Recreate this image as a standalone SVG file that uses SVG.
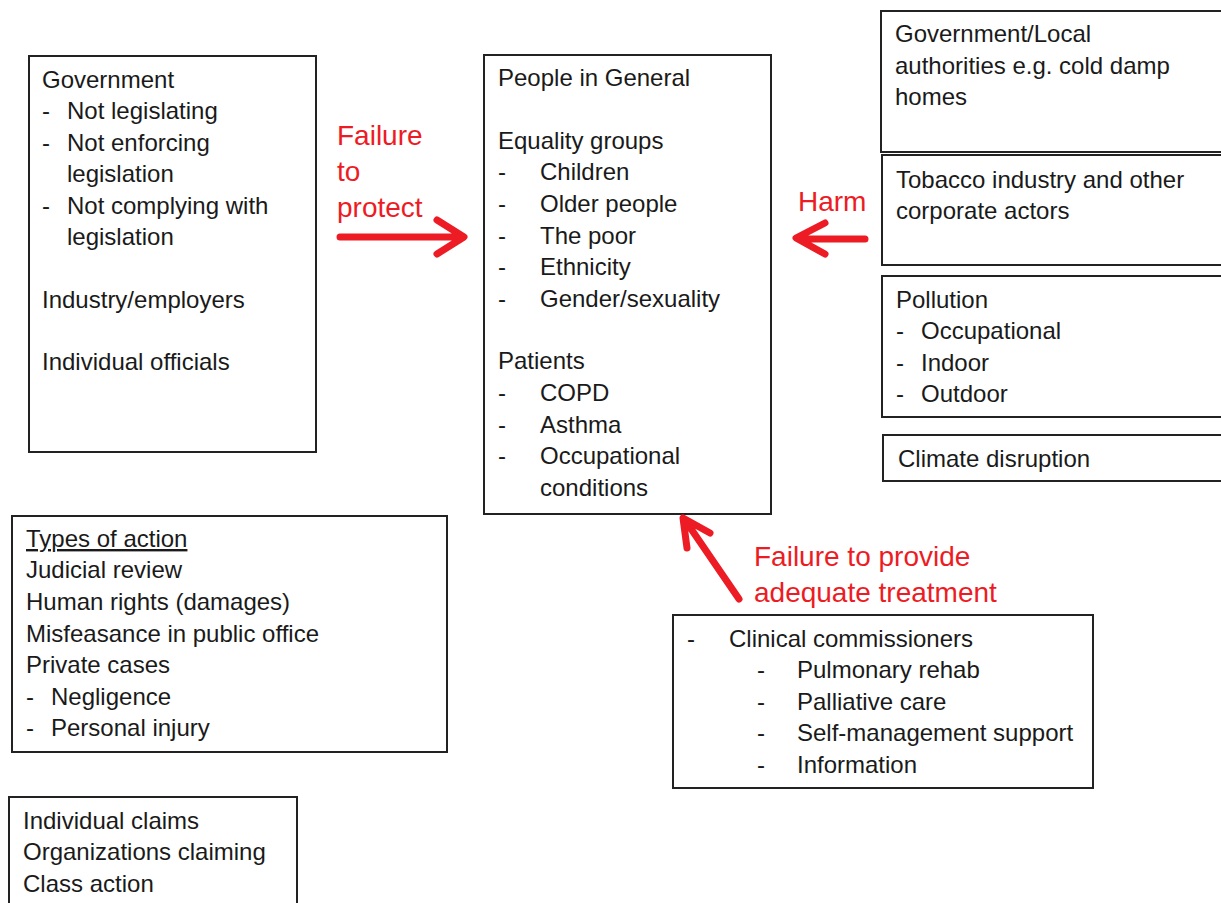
<svg xmlns="http://www.w3.org/2000/svg" width="1221" height="903" viewBox="0 0 1221 903">
<style>
.box{fill:#fff;stroke:#222;stroke-width:2}
text{font-family:"Liberation Sans",Arial,sans-serif;font-size:24px;fill:#1a1a1a}
.red{fill:#ed1c24;font-size:28px}
.arr{fill:none;stroke:#ed1c24;stroke-width:7;stroke-linecap:round;stroke-linejoin:round}
</style>
<rect width="1221" height="903" fill="#fff"/>
<g id="government">
<rect class="box" x="29" y="56" width="287" height="396"/>
<text x="42" y="88">Government</text>
<text x="42" y="119">-</text><text x="67" y="119">Not legislating</text>
<text x="42" y="151">-</text><text x="67" y="151">Not enforcing</text>
<text x="67" y="182">legislation</text>
<text x="42" y="214">-</text><text x="67" y="214">Not complying with</text>
<text x="67" y="245">legislation</text>
<text x="42" y="308">Industry/employers</text>
<text x="42" y="370">Individual officials</text>
</g>
<g id="people">
<rect class="box" x="484" y="55" width="287" height="459"/>
<text x="498" y="86">People in General</text>
<text x="498" y="149">Equality groups</text>
<text x="498" y="180">-</text><text x="540" y="180">Children</text>
<text x="498" y="212">-</text><text x="540" y="212">Older people</text>
<text x="498" y="244">-</text><text x="540" y="244">The poor</text>
<text x="498" y="275">-</text><text x="540" y="275">Ethnicity</text>
<text x="498" y="307">-</text><text x="540" y="307">Gender/sexuality</text>
<text x="498" y="369">Patients</text>
<text x="498" y="401">-</text><text x="540" y="401">COPD</text>
<text x="498" y="433">-</text><text x="540" y="433">Asthma</text>
<text x="498" y="464">-</text><text x="540" y="464">Occupational</text>
<text x="540" y="496">conditions</text>
</g>
<g id="local-authorities">
<rect class="box" x="881" y="11" width="345" height="141"/>
<text x="895" y="42">Government/Local</text>
<text x="895" y="74">authorities e.g. cold damp</text>
<text x="895" y="105">homes</text>
</g>
<g id="tobacco">
<rect class="box" x="882" y="155" width="344" height="110"/>
<text x="896" y="188">Tobacco industry and other</text>
<text x="896" y="219">corporate actors</text>
</g>
<g id="pollution">
<rect class="box" x="882" y="276" width="344" height="141"/>
<text x="896" y="308">Pollution</text>
<text x="896" y="339">-</text><text x="921" y="339">Occupational</text>
<text x="896" y="371">-</text><text x="921" y="371">Indoor</text>
<text x="896" y="402">-</text><text x="921" y="402">Outdoor</text>
</g>
<g id="climate">
<rect class="box" x="883" y="435" width="343" height="46"/>
<text x="898" y="467">Climate disruption</text>
</g>
<g id="types-of-action">
<rect class="box" x="12" y="516" width="435" height="236"/>
<text x="26" y="547" text-decoration="underline">Types of action</text>
<text x="26" y="578">Judicial review</text>
<text x="26" y="610">Human rights (damages)</text>
<text x="26" y="642">Misfeasance in public office</text>
<text x="26" y="673">Private cases</text>
<text x="26" y="705">-</text><text x="51" y="705">Negligence</text>
<text x="26" y="736">-</text><text x="51" y="736">Personal injury</text>
</g>
<g id="clinical">
<rect class="box" x="673" y="615" width="420" height="173"/>
<text x="687" y="647">-</text><text x="729" y="647">Clinical commissioners</text>
<text x="757" y="678">-</text><text x="797" y="678">Pulmonary rehab</text>
<text x="757" y="710">-</text><text x="797" y="710">Palliative care</text>
<text x="757" y="741">-</text><text x="797" y="741">Self-management support</text>
<text x="757" y="773">-</text><text x="797" y="773">Information</text>
</g>
<g id="claims">
<rect class="box" x="9" y="797" width="288" height="120"/>
<text x="23" y="829">Individual claims</text>
<text x="23" y="860">Organizations claiming</text>
<text x="23" y="892">Class action</text>
</g>
<g id="connectors">
<path class="arr" d="M340 237H461M437 220L464 237L437 254"/>
<text class="red" x="337" y="145">Failure</text>
<text class="red" x="337" y="181">to</text>
<text class="red" x="337" y="217">protect</text>
<path class="arr" d="M865 239H799M825 223L796 238L825 254"/>
<text class="red" x="798" y="211">Harm</text>
<path class="arr" d="M739 599L685 520M710 533L683 518L687 548"/>
<text class="red" x="754" y="566">Failure to provide</text>
<text class="red" x="754" y="602">adequate treatment</text>
</g>
</svg>
